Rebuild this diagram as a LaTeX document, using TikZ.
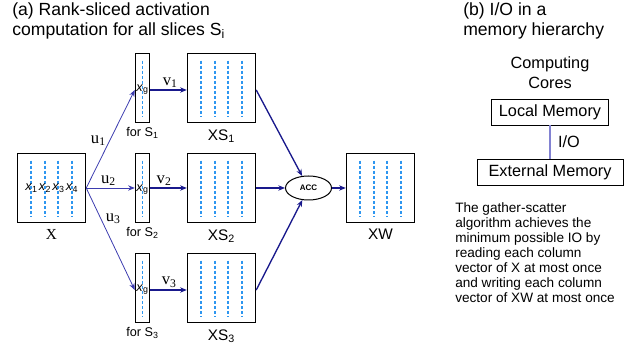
\documentclass[tikz,border=0pt]{standalone}
\usepackage{fontspec}
\setmainfont{Liberation Sans}
\newfontfamily\vecfont{Liberation Serif}
\usetikzlibrary{positioning,arrows.meta,shapes.geometric}
\definecolor{arrblue}{RGB}{25,25,140}
\definecolor{ublue}{RGB}{60,60,175}
\definecolor{coldash}{RGB}{45,150,240}
\definecolor{iolav}{RGB}{130,130,210}
\newcommand\colsof[2]{\draw[coldash,line width=1.1pt,dash pattern=on 2.3pt off 1.5pt]
  \foreach \dx in {#2} {([xshift=\dx pt,yshift=-6pt]#1.north) -- ([xshift=\dx pt,yshift=5.2pt]#1.south)};}
\tikzset{
mat/.style={draw,line width=1.1pt,minimum width=51pt,minimum height=52pt,inner sep=0pt},
slice/.style={draw,line width=1.1pt,minimum width=10.5pt,minimum height=52pt,inner sep=0pt},
flow/.style={arrblue,line width=0.8pt,-{Stealth[length=5pt,width=4pt]}},
uflow/.style={ublue,line width=0.6pt,-{Stealth[length=5pt,width=4pt]}},
xlab/.style={inner sep=0pt,font=\fontsize{9.5}{10}\selectfont},
vlab/.style={inner sep=0.5pt,text=black,font=\vecfont\fontsize{12.5}{12}\selectfont},
boxcap/.style={inner sep=0pt,font=\fontsize{11.5}{12}\selectfont},
forlab/.style={inner sep=0pt,font=\fontsize{9.5}{10}\selectfont},
memb/.style={draw,line width=0.6pt,minimum height=19.5pt,inner sep=0pt,font=\fontsize{12.2}{13}\selectfont},
ttl/.style={inner sep=0pt,align=left,font=\fontsize{13.2}{15}\selectfont}
}
\begin{document}
\begin{tikzpicture}[x=0.75pt,y=-0.75pt,on grid]
\useasboundingbox (0,0) rectangle (639,348);
\node[ttl,anchor=north west] (ta) at (12,2) {(a) Rank-sliced activation\\computation for all slices S\textsubscript{i}};
\node[ttl,anchor=north west] (tb) at (463,2) {(b) I/O in a\\memory hierarchy};

\node[mat] (X) at (51.5,188) {};
\node[slice,right=68.25pt of X] (s2) {};
\node[slice,above=75pt of s2] (s1) {};
\node[slice,below=75pt of s2] (s3) {};
\node[mat,right=59.25pt of s1] (xs1) {};
\node[mat,right=59.25pt of s2] (xs2) {};
\node[mat,right=59.25pt of s3] (xs3) {};
\node[ellipse,draw,line width=0.75pt,minimum width=34.5pt,minimum height=18pt,inner sep=0pt,
  font=\bfseries\fontsize{6}{6}\selectfont,right=65.25pt of xs2] (acc) {ACC};
\node[mat,right=54pt of acc] (xw) {};

\colsof{X}{-15.375,-4.875,4.875,15.375}
\colsof{xs1}{-15.375,-4.875,4.875,15.375}
\colsof{xs2}{-15.375,-4.875,4.875,15.375}
\colsof{xs3}{-15.375,-4.875,4.875,15.375}
\colsof{xw}{-15.375,-4.875,4.875,15.375}
\foreach \i in {1,2,3} {
\colsof{s\i}{0}
\node[xlab] (g\i) at ([yshift=-1pt]s\i.center) {\textit{x}\textsubscript{g}};
\node[forlab,below=34pt of s\i] (f\i) {for S\textsubscript{\i}};
\node[boxcap,below=36pt of xs\i] (l\i) {XS\textsubscript{\i}};
}
\foreach \dx [count=\k] in {-15,-4.875,5.25,15.375}
\node[xlab] (x\k) at ([xshift=\dx pt]X.center) {\textit{x}\textsubscript{\k}};
\node[boxcap,font=\vecfont\fontsize{11.5}{12}\selectfont,below=35pt of X] (lx) {X};
\node[boxcap,below=35pt of xw] (lw) {XW};

\draw[uflow] (X.east) -- node[vlab,pos=0.48,left=2pt] {u\textsubscript{1}} ([yshift=-1.5pt]s1.west);
\draw[uflow] (X.east) -- node[vlab,pos=0.46,above=1pt] {u\textsubscript{2}} (s2.west);
\draw[uflow] (X.east) -- node[vlab,pos=0.3,right=3pt] {u\textsubscript{3}} ([yshift=-1.5pt]s3.west);
\draw[flow] ([yshift=-1.5pt]s1.east) -- node[vlab,pos=0.55,above=1pt] {v\textsubscript{1}} ([yshift=-1.5pt]xs1.west);
\draw[flow] (s2.east) -- node[vlab,pos=0.38,above=1pt] {v\textsubscript{2}} (xs2.west);
\draw[flow] ([yshift=-1.5pt]s3.east) -- node[vlab,pos=0.52,above=1pt] {v\textsubscript{3}} ([yshift=-1.5pt]xs3.west);
\draw[flow,line width=1pt] ([yshift=-1.5pt]xs1.east) -- (acc);
\draw[flow,line width=1pt] (xs2.east) -- (acc.west);
\draw[flow,line width=1pt] ([yshift=-1.5pt]xs3.east) -- (acc);
\draw[flow] (acc.east) -- (xw.west);

\node[inner sep=0pt,align=center,font=\fontsize{12.2}{15}\selectfont] (cores) at (550,73) {Computing\\Cores};
\node[memb,minimum width=87.75pt,below=29.25pt of cores] (lm) {Local Memory};
\node[memb,minimum width=109.5pt,below=45pt of lm] (em) {External Memory};
\draw[iolav,line width=1pt] (lm) -- node[inner sep=0pt,text=black,right=5.5pt,font=\fontsize{12.2}{13}\selectfont] (io) {I/O} (em);
\node[inner sep=0pt,align=left,anchor=north west,font=\fontsize{10.2}{11.25}\selectfont] (note) at (455,202)
{The gather-scatter\\algorithm achieves the\\minimum possible IO by\\reading each column\\vector of X at most once\\and writing each column\\vector of XW at most once};
\end{tikzpicture}
\end{document}
